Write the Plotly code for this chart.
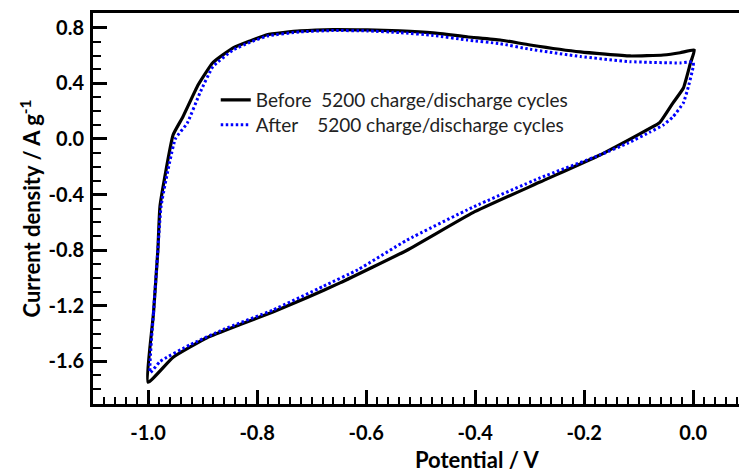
import plotly.graph_objects as go

# Before 5200 cycles (black solid)
before_x = [-1.0, -0.99, -0.982, -0.978, -0.954, -0.936, -0.908, -0.881, -0.844, -0.813,
            -0.782, -0.721, -0.66, -0.598, -0.538, -0.477, -0.415, -0.354, -0.299, -0.207,
            -0.116, -0.055, -0.024, 0.002, -0.005, -0.018, -0.037, -0.061, -0.079, -0.12,
            -0.171, -0.281, -0.404, -0.525, -0.648, -0.708, -0.771, -0.831, -0.892, -0.954, -1.0]
before_y = [-1.75, -1.25, -0.8, -0.48, 0.03, 0.16, 0.39, 0.55, 0.655, 0.705,
            0.75, 0.777, 0.787, 0.784, 0.777, 0.763, 0.735, 0.712, 0.676, 0.626,
            0.597, 0.604, 0.62, 0.64, 0.547, 0.367, 0.26, 0.12, 0.078, -0.01,
            -0.115, -0.31, -0.53, -0.80, -1.035, -1.14, -1.245, -1.335, -1.43, -1.57, -1.75]

# After 5200 cycles (blue dotted)
after_x = [-0.996, -0.99, -0.982, -0.976, -0.95, -0.928, -0.905, -0.881, -0.844, -0.813,
           -0.782, -0.721, -0.66, -0.598, -0.538, -0.477, -0.415, -0.354, -0.299, -0.207,
           -0.116, -0.024, 0.0, 0.0, -0.009, -0.018, -0.037, -0.055, -0.079, -0.12,
           -0.171, -0.281, -0.404, -0.525, -0.615, -0.679, -0.771, -0.862, -0.923, -0.978, -0.996]
after_y = [-1.68, -1.25, -0.8, -0.48, 0.0, 0.115, 0.33, 0.52, 0.64, 0.695,
           0.74, 0.77, 0.78, 0.777, 0.765, 0.745, 0.712, 0.685, 0.645, 0.593,
           0.556, 0.547, 0.554, 0.52, 0.374, 0.26, 0.16, 0.10, 0.05, -0.03,
           -0.115, -0.28, -0.49, -0.727, -0.94, -1.06, -1.23, -1.37, -1.48, -1.60, -1.68]

x_tickvals = [-1.0, -0.8, -0.6, -0.4, -0.2, 0.0]
x_ticktext = ["-1.0", "-0.8", "-0.6", "-0.4", "-0.2", "0.0"]
y_tickvals = [-1.6, -1.2, -0.8, -0.4, 0.0, 0.4, 0.8]
y_ticktext = ["-1.6", "-1.2", "-0.8", "-0.4", "0.0", "0.4", "0.8"]

name_before = "Before\u00a0\u00a05200 charge/discharge cycles"
name_after = "After\u00a0\u00a0\u00a0\u00a05200 charge/discharge cycles"

FONT = "Lato"
TICK_SIZE = 20
LEG_SIZE = 19

fig = go.Figure()
fig.add_trace(go.Scatter(x=before_x, y=before_y, mode="lines", name=name_before,
                         legend="legend",
                         line=dict(color="black", width=3.2, shape="spline", smoothing=0.4)))
fig.add_trace(go.Scatter(x=after_x, y=after_y, mode="lines", name=name_after,
                         legend="legend2",
                         line=dict(color="#0000ff", width=3, dash="2.5px,2.5px",
                                   shape="spline", smoothing=0.4)))

leg_common = dict(xanchor="left", yanchor="middle",
                  font=dict(family=FONT, size=LEG_SIZE, color="#222222"),
                  bgcolor="rgba(0,0,0,0)", itemwidth=30, borderwidth=0)

fig.update_layout(
    width=739, height=472,
    margin=dict(l=93, r=0, t=13, b=68),
    plot_bgcolor="white", paper_bgcolor="white",
    showlegend=True,
    legend=dict(x=0.19, y=(404 - 100) / 391, **leg_common),
    legend2=dict(x=0.19, y=(404 - 125) / 391, **leg_common),
    xaxis=dict(range=[-1.101, 0.084], showline=True, linewidth=3, linecolor="black",
               mirror=True, showgrid=False, zeroline=False,
               ticks="inside", ticklen=14, tickwidth=2.5, tickcolor="black",
               tickmode="array", tickvals=x_tickvals, ticktext=x_ticktext,
               ticklabelstandoff=9,
               tickfont=dict(family=FONT, size=TICK_SIZE, color="black", weight="bold"),
               minor=dict(ticks="inside", ticklen=7, tickwidth=2, tickcolor="black",
                          dtick=0.02, tick0=0, showgrid=False)),
    xaxis2=dict(overlaying="x", matches="x", anchor="y", side="bottom",
                showline=False, showgrid=False, zeroline=False,
                ticks="inside", ticklen=10, tickwidth=2, tickcolor="black",
                tickmode="linear", tick0=0, dtick=0.1, showticklabels=False),
    yaxis=dict(range=[-1.906, 0.906], showline=True, linewidth=3, linecolor="black",
               mirror=False, showgrid=False, zeroline=False,
               ticks="inside", ticklen=14, tickwidth=2.5, tickcolor="black",
               tickmode="array", tickvals=y_tickvals, ticktext=y_ticktext,
               ticklabelstandoff=2,
               tickfont=dict(family=FONT, size=TICK_SIZE, color="black", weight="bold"),
               minor=dict(ticks="inside", ticklen=8, tickwidth=2, tickcolor="black",
                          dtick=0.1, tick0=0, showgrid=False)),
    annotations=[
        dict(text="<b>Current density / A g<sup>-1</sup></b>", xref="paper", yref="paper",
             x=-0.0975, y=0.5, xanchor="center", yanchor="middle", textangle=-90,
             showarrow=False, font=dict(family=FONT, size=22, color="black")),
        dict(text="<b>Potential / V</b>", xref="paper", yref="paper",
             x=0.595, y=-0.143, xanchor="center", yanchor="middle",
             showarrow=False, font=dict(family=FONT, size=22, color="black")),
    ],
)

fig.write_html("out.html")
